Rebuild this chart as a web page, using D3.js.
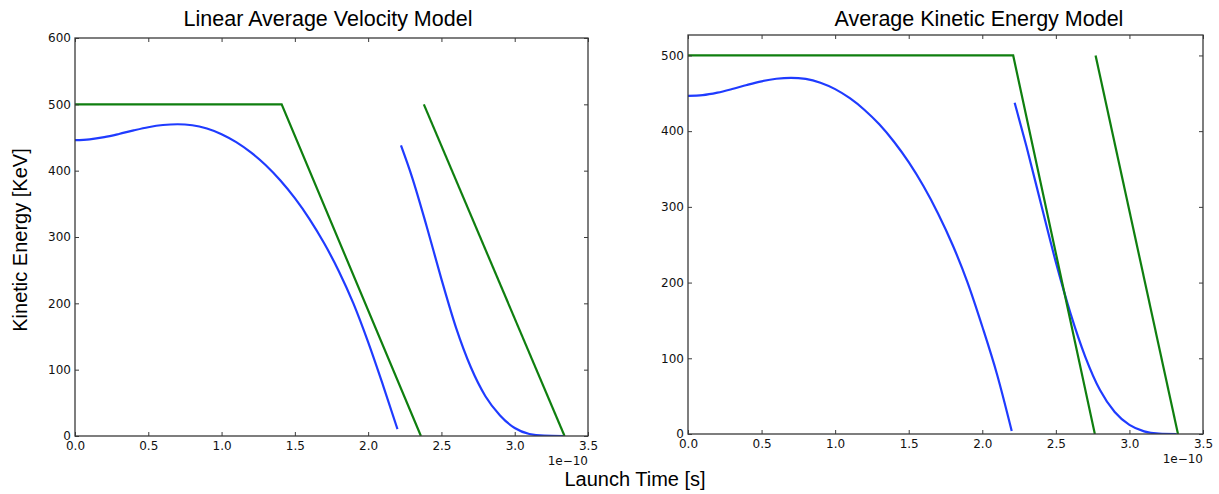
<!DOCTYPE html>
<html>
<head>
<meta charset="utf-8">
<script src="https://cdn.jsdelivr.net/npm/d3@7"></script>
<style>
  body { margin: 0; background: #fff; }
  svg { display: block; }
</style>
</head>
<body>
<svg id="chart" width="1219" height="494"></svg>
<script>
// Launch time in units of 1e-10 s, kinetic energy in keV.
const xTickValues = [0, 0.5, 1, 1.5, 2, 2.5, 3, 3.5];
const xTickLabels = ["0.0", "0.5", "1.0", "1.5", "2.0", "2.5", "3.0", "3.5"];
const leftYTicks = [0, 100, 200, 300, 400, 500, 600];
const rightYTicks = [0, 100, 200, 300, 400, 500];

// Linear average velocity model
const linBlueFirst = [
  [0, 446], [0.1, 447.2], [0.2, 450.5], [0.3, 455.3], [0.4, 460.7], [0.5, 465.5],
  [0.6, 468.8], [0.7, 470], [0.8, 468.5], [0.9, 463.5], [1.0, 455], [1.1, 443],
  [1.2, 427.5], [1.3, 408.5], [1.4, 385.5], [1.5, 358.5], [1.6, 327], [1.7, 290.5],
  [1.8, 248.5], [1.9, 199.5], [2.0, 141.5], [2.1, 77.5], [2.2, 10.5]
];
const linBlueSecond = [
  [2.224, 438], [2.3, 390], [2.4, 315.5], [2.5, 236.5], [2.6, 163], [2.7, 104],
  [2.8, 60], [2.9, 31], [3.0, 12], [3.1, 3], [3.2, 0.5], [3.33, 0]
];
const linGreenFirst = [[0, 500], [1.41, 500], [2.36, 0]];
const linGreenSecond = [[2.38, 500], [3.34, 0]];

// Average kinetic energy model
const akeBlueFirst = [
  [0, 446.5], [0.1, 447.5], [0.2, 450.8], [0.3, 455.6], [0.4, 461], [0.5, 465.8],
  [0.6, 469.2], [0.7, 470.5], [0.8, 469], [0.9, 464], [1.0, 455.5], [1.1, 443.5],
  [1.2, 428], [1.3, 409], [1.4, 386], [1.5, 359], [1.6, 327.5], [1.7, 291],
  [1.8, 249], [1.9, 200], [2.0, 142], [2.1, 79], [2.2, 4]
];
const akeBlueSecond = [
  [2.22, 437.5], [2.3, 380], [2.4, 303], [2.5, 227], [2.6, 159], [2.7, 102],
  [2.8, 58], [2.9, 29], [3.0, 12], [3.1, 3.5], [3.2, 0.6], [3.32, 0]
];
const akeGreenFirst = [[0, 500], [2.21, 500], [2.765, 0]];
const akeGreenSecond = [[2.77, 500], [3.33, 0]];

const BLUE = "#1f3bff";
const GREEN = "#0f7f0f";
const FRAME = "#3a3a3a";
const tickFont = "'DejaVu Sans', sans-serif";
const labelFont = "'Liberation Sans', Arial, sans-serif";

const svg = d3.select("#chart");
svg.append("rect").attr("width", 1219).attr("height", 494).attr("fill", "#fff");

function drawPanel(p) {
  const x = d3.scaleLinear().domain([0, 3.5]).range([p.x0, p.x1]);
  const y = d3.scaleLinear().domain([0, p.yMax]).range([p.y1, p.y0]);
  const g = svg.append("g");

  const clipId = "clip-" + p.id;
  g.append("clipPath").attr("id", clipId)
    .append("rect").attr("x", p.x0).attr("y", p.y0)
    .attr("width", p.x1 - p.x0).attr("height", p.y1 - p.y0);

  const plot = g.append("g").attr("clip-path", `url(#${clipId})`);
  const smooth = d3.line().x(d => x(d[0])).y(d => y(d[1])).curve(d3.curveMonotoneX);
  const straight = d3.line().x(d => x(d[0])).y(d => y(d[1]));

  p.blue.forEach(s => plot.append("path").attr("d", smooth(s))
    .attr("fill", "none").attr("stroke", BLUE).attr("stroke-width", 2.2)
    .attr("stroke-linejoin", "round"));
  p.green.forEach(s => plot.append("path").attr("d", straight(s))
    .attr("fill", "none").attr("stroke", GREEN).attr("stroke-width", 2.2)
    .attr("stroke-linejoin", "miter"));

  // inward ticks on all four sides
  const bottom = d3.axisBottom(x).tickValues(xTickValues)
    .tickFormat((d, i) => xTickLabels[i]).tickSizeInner(-4).tickSizeOuter(0).tickPadding(5.5);
  const top = d3.axisTop(x).tickValues(xTickValues).tickFormat("").tickSizeInner(-4).tickSizeOuter(0);
  const left = d3.axisLeft(y).tickValues(p.yTicks).tickFormat(d3.format("d"))
    .tickSizeInner(-4).tickSizeOuter(0).tickPadding(4);
  const right = d3.axisRight(y).tickValues(p.yTicks).tickFormat("").tickSizeInner(-4).tickSizeOuter(0);

  const axes = [
    [bottom, `translate(0,${p.y1})`],
    [top, `translate(0,${p.y0})`],
    [left, `translate(${p.x0},0)`],
    [right, `translate(${p.x1},0)`]
  ];
  axes.forEach(([ax, tr]) => {
    const a = g.append("g").attr("transform", tr).call(ax);
    a.select(".domain").remove();
    a.selectAll(".tick line").attr("stroke", FRAME).attr("stroke-width", 1);
    a.selectAll(".tick text").attr("fill", "#111")
      .style("font-family", tickFont).style("font-size", "12px");
  });

  g.append("rect").attr("x", p.x0).attr("y", p.y0)
    .attr("width", p.x1 - p.x0).attr("height", p.y1 - p.y0)
    .attr("fill", "none").attr("stroke", FRAME).attr("stroke-width", 1.3);

  // axis offset text
  g.append("text").attr("x", p.x1).attr("y", p.y1 + 29)
    .attr("text-anchor", "end").attr("fill", "#111")
    .style("font-family", tickFont).style("font-size", "12px")
    .text("1e\u221210");

  g.append("text").attr("x", p.titleX).attr("y", 26)
    .attr("text-anchor", "middle").attr("fill", "#000")
    .style("font-family", labelFont).style("font-size", "21.5px")
    .text(p.title);
}

drawPanel({
  id: "lav", x0: 75, x1: 588, y0: 38, y1: 436, yMax: 600, yTicks: leftYTicks,
  title: "Linear Average Velocity Model", titleX: 328,
  blue: [linBlueFirst, linBlueSecond], green: [linGreenFirst, linGreenSecond]
});

drawPanel({
  id: "ake", x0: 688, x1: 1203, y0: 35, y1: 434, yMax: 527, yTicks: rightYTicks,
  title: "Average Kinetic Energy Model", titleX: 979,
  blue: [akeBlueFirst, akeBlueSecond], green: [akeGreenFirst, akeGreenSecond]
});

svg.append("text").attr("transform", "translate(27,240) rotate(-90)")
  .attr("text-anchor", "middle").attr("fill", "#000")
  .style("font-family", labelFont).style("font-size", "20px")
  .text("Kinetic Energy [KeV]");

svg.append("text").attr("x", 635).attr("y", 486)
  .attr("text-anchor", "middle").attr("fill", "#000")
  .style("font-family", labelFont).style("font-size", "20px")
  .text("Launch Time [s]");
</script>
</body>
</html>
